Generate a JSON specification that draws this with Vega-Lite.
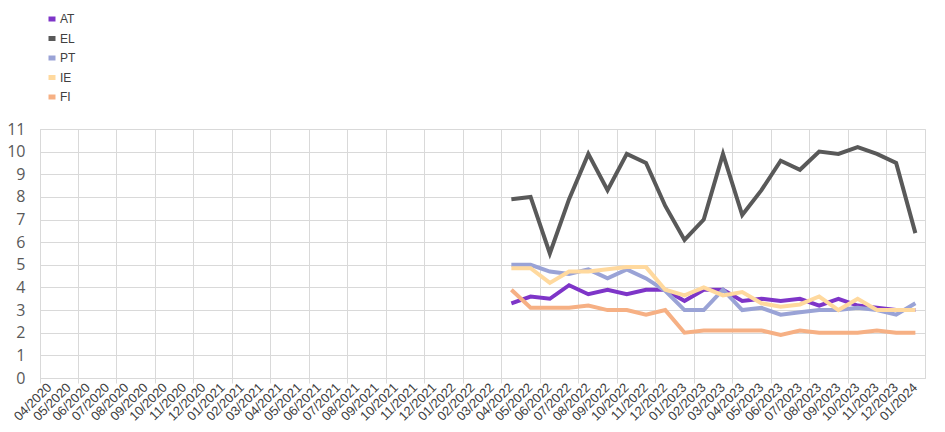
{
  "$schema": "https://vega.github.io/schema/vega-lite/v6.json",
  "autosize": {"type": "none"},
  "width": 885,
  "height": 249,
  "padding": {"left": 40, "top": 129, "right": 20, "bottom": 54},
  "background": "white",
  "config": {
    "view": {"stroke": "#d9d9d9", "strokeWidth": 1},
    "font": "Liberation Sans"
  },
  "data": {
    "values": [
      {"m": "04/2022", "c": "AT", "v": 3.3}, {"m": "05/2022", "c": "AT", "v": 3.6}, {"m": "06/2022", "c": "AT", "v": 3.5},
      {"m": "07/2022", "c": "AT", "v": 4.1}, {"m": "08/2022", "c": "AT", "v": 3.7}, {"m": "09/2022", "c": "AT", "v": 3.9},
      {"m": "10/2022", "c": "AT", "v": 3.7}, {"m": "11/2022", "c": "AT", "v": 3.9}, {"m": "12/2022", "c": "AT", "v": 3.9},
      {"m": "01/2023", "c": "AT", "v": 3.4}, {"m": "02/2023", "c": "AT", "v": 3.9}, {"m": "03/2023", "c": "AT", "v": 3.9},
      {"m": "04/2023", "c": "AT", "v": 3.4}, {"m": "05/2023", "c": "AT", "v": 3.5}, {"m": "06/2023", "c": "AT", "v": 3.4},
      {"m": "07/2023", "c": "AT", "v": 3.5}, {"m": "08/2023", "c": "AT", "v": 3.2}, {"m": "09/2023", "c": "AT", "v": 3.5},
      {"m": "10/2023", "c": "AT", "v": 3.2}, {"m": "11/2023", "c": "AT", "v": 3.1}, {"m": "12/2023", "c": "AT", "v": 3.0},
      {"m": "01/2024", "c": "AT", "v": 3.0},

      {"m": "04/2022", "c": "EL", "v": 7.9}, {"m": "05/2022", "c": "EL", "v": 8.0}, {"m": "06/2022", "c": "EL", "v": 5.5},
      {"m": "07/2022", "c": "EL", "v": 7.9}, {"m": "08/2022", "c": "EL", "v": 9.9}, {"m": "09/2022", "c": "EL", "v": 8.3},
      {"m": "10/2022", "c": "EL", "v": 9.9}, {"m": "11/2022", "c": "EL", "v": 9.5}, {"m": "12/2022", "c": "EL", "v": 7.6},
      {"m": "01/2023", "c": "EL", "v": 6.1}, {"m": "02/2023", "c": "EL", "v": 7.0}, {"m": "03/2023", "c": "EL", "v": 9.9},
      {"m": "04/2023", "c": "EL", "v": 7.2}, {"m": "05/2023", "c": "EL", "v": 8.3}, {"m": "06/2023", "c": "EL", "v": 9.6},
      {"m": "07/2023", "c": "EL", "v": 9.2}, {"m": "08/2023", "c": "EL", "v": 10.0}, {"m": "09/2023", "c": "EL", "v": 9.9},
      {"m": "10/2023", "c": "EL", "v": 10.2}, {"m": "11/2023", "c": "EL", "v": 9.9}, {"m": "12/2023", "c": "EL", "v": 9.5},
      {"m": "01/2024", "c": "EL", "v": 6.4},

      {"m": "04/2022", "c": "PT", "v": 5.0}, {"m": "05/2022", "c": "PT", "v": 5.0}, {"m": "06/2022", "c": "PT", "v": 4.7},
      {"m": "07/2022", "c": "PT", "v": 4.6}, {"m": "08/2022", "c": "PT", "v": 4.8}, {"m": "09/2022", "c": "PT", "v": 4.4},
      {"m": "10/2022", "c": "PT", "v": 4.8}, {"m": "11/2022", "c": "PT", "v": 4.4}, {"m": "12/2022", "c": "PT", "v": 3.85},
      {"m": "01/2023", "c": "PT", "v": 3.0}, {"m": "02/2023", "c": "PT", "v": 3.0}, {"m": "03/2023", "c": "PT", "v": 3.9},
      {"m": "04/2023", "c": "PT", "v": 3.0}, {"m": "05/2023", "c": "PT", "v": 3.1}, {"m": "06/2023", "c": "PT", "v": 2.8},
      {"m": "07/2023", "c": "PT", "v": 2.9}, {"m": "08/2023", "c": "PT", "v": 3.0}, {"m": "09/2023", "c": "PT", "v": 3.0},
      {"m": "10/2023", "c": "PT", "v": 3.1}, {"m": "11/2023", "c": "PT", "v": 3.0}, {"m": "12/2023", "c": "PT", "v": 2.8},
      {"m": "01/2024", "c": "PT", "v": 3.3},

      {"m": "04/2022", "c": "IE", "v": 4.85}, {"m": "05/2022", "c": "IE", "v": 4.85}, {"m": "06/2022", "c": "IE", "v": 4.2},
      {"m": "07/2022", "c": "IE", "v": 4.7}, {"m": "08/2022", "c": "IE", "v": 4.7}, {"m": "09/2022", "c": "IE", "v": 4.8},
      {"m": "10/2022", "c": "IE", "v": 4.9}, {"m": "11/2022", "c": "IE", "v": 4.9}, {"m": "12/2022", "c": "IE", "v": 3.9},
      {"m": "01/2023", "c": "IE", "v": 3.65}, {"m": "02/2023", "c": "IE", "v": 4.0}, {"m": "03/2023", "c": "IE", "v": 3.65},
      {"m": "04/2023", "c": "IE", "v": 3.8}, {"m": "05/2023", "c": "IE", "v": 3.3}, {"m": "06/2023", "c": "IE", "v": 3.15},
      {"m": "07/2023", "c": "IE", "v": 3.25}, {"m": "08/2023", "c": "IE", "v": 3.6}, {"m": "09/2023", "c": "IE", "v": 3.0},
      {"m": "10/2023", "c": "IE", "v": 3.5}, {"m": "11/2023", "c": "IE", "v": 3.0}, {"m": "12/2023", "c": "IE", "v": 3.0},
      {"m": "01/2024", "c": "IE", "v": 3.0},

      {"m": "04/2022", "c": "FI", "v": 3.9}, {"m": "05/2022", "c": "FI", "v": 3.1}, {"m": "06/2022", "c": "FI", "v": 3.1},
      {"m": "07/2022", "c": "FI", "v": 3.1}, {"m": "08/2022", "c": "FI", "v": 3.2}, {"m": "09/2022", "c": "FI", "v": 3.0},
      {"m": "10/2022", "c": "FI", "v": 3.0}, {"m": "11/2022", "c": "FI", "v": 2.8}, {"m": "12/2022", "c": "FI", "v": 3.0},
      {"m": "01/2023", "c": "FI", "v": 2.0}, {"m": "02/2023", "c": "FI", "v": 2.1}, {"m": "03/2023", "c": "FI", "v": 2.1},
      {"m": "04/2023", "c": "FI", "v": 2.1}, {"m": "05/2023", "c": "FI", "v": 2.1}, {"m": "06/2023", "c": "FI", "v": 1.9},
      {"m": "07/2023", "c": "FI", "v": 2.1}, {"m": "08/2023", "c": "FI", "v": 2.0}, {"m": "09/2023", "c": "FI", "v": 2.0},
      {"m": "10/2023", "c": "FI", "v": 2.0}, {"m": "11/2023", "c": "FI", "v": 2.1}, {"m": "12/2023", "c": "FI", "v": 2.0},
      {"m": "01/2024", "c": "FI", "v": 2.0}
    ]
  },
  "mark": {"type": "line", "strokeWidth": 4, "strokeJoin": "miter", "strokeCap": "butt"},
  "encoding": {
    "x": {
      "field": "m",
      "type": "ordinal",
      "sort": null,
      "bandPosition": 0.5,
      "scale": {
        "type": "band",
        "paddingInner": 0,
        "paddingOuter": 0,
        "domain": ["04/2020","05/2020","06/2020","07/2020","08/2020","09/2020","10/2020","11/2020","12/2020",
                   "01/2021","02/2021","03/2021","04/2021","05/2021","06/2021","07/2021","08/2021","09/2021","10/2021","11/2021","12/2021",
                   "01/2022","02/2022","03/2022","04/2022","05/2022","06/2022","07/2022","08/2022","09/2022","10/2022","11/2022","12/2022",
                   "01/2023","02/2023","03/2023","04/2023","05/2023","06/2023","07/2023","08/2023","09/2023","10/2023","11/2023","12/2023",
                   "01/2024"]
      },
      "axis": {
        "title": null,
        "bandPosition": 0,
        "labelOffset": 0,
        "labelAngle": -45,
        "labelAlign": "right",
        "labelBaseline": "middle",
        "labelFontSize": 13,
        "labelColor": "#404040",
        "labelPadding": 2,
        "labelOverlap": false,
        "labelFont": "Liberation Sans",
        "domainColor": "#d9d9d9",
        "tickColor": "#d9d9d9",
        "tickSize": 5,
        "tickOpacity": {"condition": {"test": "parseInt(substring(datum.value,0,2)) % 2 === 0", "value": 1}, "value": 0},
        "grid": true,
        "gridColor": "#d9d9d9",
        "gridOpacity": {"condition": {"test": "parseInt(substring(datum.value,0,2)) % 2 === 0", "value": 1}, "value": 0}
      }
    },
    "y": {
      "field": "v",
      "type": "quantitative",
      "scale": {"domain": [0, 11], "nice": false},
      "axis": {
        "title": null,
        "values": [0,1,2,3,4,5,6,7,8,9,10,11],
        "labelFontSize": 16,
        "labelColor": "#595959",
        "labelFont": "Open Sans",
        "labelPadding": 15,
        "ticks": false,
        "domain": false,
        "gridColor": "#d9d9d9"
      }
    },
    "color": {
      "field": "c",
      "type": "nominal",
      "sort": ["AT", "EL", "PT", "IE", "FI"],
      "scale": {
        "domain": ["AT", "EL", "PT", "IE", "FI"],
        "range": ["#7e35c8", "#595959", "#9aa3d6", "#ffd99e", "#f6b084"]
      },
      "legend": {
        "title": null,
        "orient": "none",
        "legendX": 6,
        "legendY": -116,
        "symbolType": "stroke",
        "symbolSize": 49,
        "symbolStrokeWidth": 5,
        "symbolOpacity": 1,
        "labelFontSize": 12,
        "labelColor": "#404040",
        "labelFont": "Liberation Sans",
        "rowPadding": -0.5,
        "labelOffset": 2
      }
    }
  }
}
